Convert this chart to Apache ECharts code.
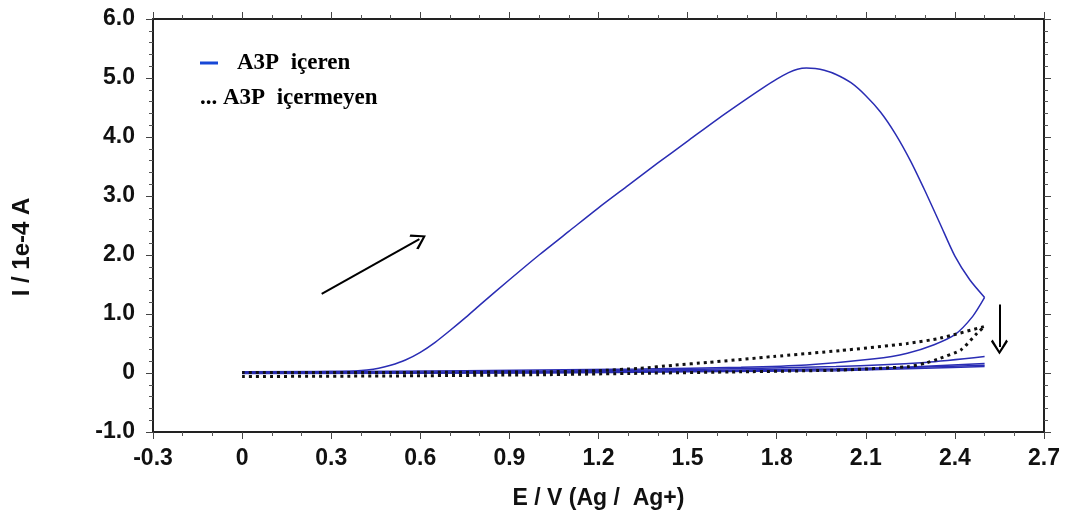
<!DOCTYPE html>
<html>
<head>
<meta charset="utf-8">
<script src="https://cdn.jsdelivr.net/npm/echarts@6/dist/echarts.min.js"></script>
<style>html,body{margin:0;padding:0;background:#fff}#c{width:1070px;height:520px}</style>
</head>
<body>
<div id="c"></div>
<script>
// ---- data (E / V, I / 1e-4 A) ----
const xTicks = { min: -0.3, max: 2.7, interval: 0.3 };
const yTicks = { min: -1, max: 6, interval: 1 };

// A3P içeren: first cycle forward scan
const bluePeakForward = [
  [0,0.02],[0.1,0.02],[0.2,0.02],[0.3,0.025],[0.38,0.035],[0.42,0.05],[0.46,0.08],[0.5,0.13],
  [0.55,0.22],[0.6,0.35],[0.65,0.52],[0.7,0.72],[0.75,0.93],[0.8,1.15],[0.9,1.58],[1.0,2.0],
  [1.1,2.4],[1.2,2.8],[1.3,3.18],[1.4,3.56],[1.5,3.93],[1.6,4.3],[1.7,4.65],[1.75,4.82],
  [1.8,4.98],[1.84,5.09],[1.87,5.15],[1.9,5.17],[1.93,5.16],[1.96,5.13],[2.0,5.06],
  [2.05,4.92],[2.1,4.7],[2.15,4.42],[2.2,4.05],[2.25,3.6],[2.3,3.08],[2.35,2.53],
  [2.4,1.98],[2.45,1.58],[2.5,1.28]
];
// A3P içeren: first cycle reverse scan
const bluePeakReverse = [
  [2.5,1.28],[2.46,0.96],[2.4,0.65],[2.33,0.48],[2.24,0.335],[2.13,0.24],[1.9,0.136],
  [1.68,0.097],[1.34,0.068],[1.0,0.05],[0.5,0.03],[0,0.02]
];
// A3P içeren: following cycles
const blueCycle2Fwd = [[0,0.0],[0.5,0.01],[1.0,0.03],[1.5,0.06],[2.0,0.11],[2.3,0.18],[2.5,0.28]];
const blueCycle2Rev = [[2.5,0.16],[2.2,0.09],[2.0,0.06],[1.5,0.03],[1.0,0.01],[0.5,0.0],[0,0.0]];
const blueCycle3Fwd = [[0,0.0],[1.0,0.02],[1.5,0.04],[2.0,0.07],[2.3,0.1],[2.5,0.13]];
const blueCycle3Rev = [[2.5,0.11],[2.3,0.08],[2.0,0.04],[1.5,0.02],[1.0,0.0],[0,-0.01]];
// A3P içermeyen
const blackDotted = [
  [0,-0.06],[0.5,-0.05],[1.0,-0.03],[1.34,-0.005],[1.68,0.02],[2.015,0.05],[2.24,0.107],
  [2.3,0.165],[2.35,0.25],[2.42,0.39],[2.475,0.675],[2.5,0.79],[2.35,0.59],[2.24,0.5],
  [2.015,0.38],[1.79,0.28],[1.57,0.18],[1.45,0.13],[1.34,0.08],[1.2,0.04],[1.0,0.02],
  [0.5,0.01],[0,0.01]
];
// annotation arrows [start, end]
const arrowScan = [[0.268,1.34],[0.597,2.27]];
const arrowDown = [[2.55,1.16],[2.55,0.44]];

const seriesNames = ['A3P  içeren', 'A3P  içermeyen'];
const axisTitles = { x: 'E / V (Ag /  Ag+)', y: 'I / 1e-4 A' };

// ---- chart ----
const BLUE = '#2a2db4';
const chart = echarts.init(document.getElementById('c'), null, { renderer: 'canvas' });
const SANS = '"Liberation Sans", Arial, sans-serif';
const labelFont = { fontFamily: SANS, fontWeight: 'bold', fontSize: 23, color: '#111' };
const fmt = v => (Math.abs(v) < 1e-9 ? '0' : v.toFixed(1));
const axisLine = { show: true, onZero: false, lineStyle: { color: '#222', width: 2 } };
const tick = { show: true, inside: false, length: 7, lineStyle: { color: '#444', width: 1 } };
const minor = { show: true, length: 4, lineStyle: { color: '#555', width: 1 } };
const arrowHead = 'path://M10,0 L20,14 L18,16 L10,4 L2,16 L0,14 Z';

function blueSeries(data, name) {
  return { type: 'line', name, data, showSymbol: false, smooth: 0.25, silent: true,
    lineStyle: { color: BLUE, width: 1.5 }, z: 3 };
}

chart.setOption({
  animation: false,
  grid: { left: 153, right: 26, top: 19, bottom: 88 },
  xAxis: [
    { type: 'value', min: xTicks.min, max: xTicks.max, interval: xTicks.interval, position: 'bottom',
      axisLine, axisTick: tick, minorTick: Object.assign({ splitNumber: 3 }, minor), splitLine: { show: false },
      axisLabel: Object.assign({ margin: 15, formatter: fmt }, labelFont),
      name: axisTitles.x, nameLocation: 'middle', nameGap: 55,
      nameTextStyle: { fontFamily: SANS, fontWeight: 'bold', fontSize: 23, color: '#111' } },
    { type: 'value', min: xTicks.min, max: xTicks.max, interval: xTicks.interval, position: 'top',
      axisLine, axisTick: tick, minorTick: Object.assign({ splitNumber: 3 }, minor), splitLine: { show: false },
      axisLabel: { show: false } }
  ],
  yAxis: [
    { type: 'value', min: yTicks.min, max: yTicks.max, interval: yTicks.interval, position: 'left',
      axisLine, axisTick: tick, minorTick: Object.assign({ splitNumber: 5 }, minor), splitLine: { show: false },
      axisLabel: Object.assign({ margin: 18, formatter: fmt }, labelFont) },
    { type: 'value', min: yTicks.min, max: yTicks.max, interval: yTicks.interval, position: 'right',
      axisLine, axisTick: tick, minorTick: Object.assign({ splitNumber: 5 }, minor), splitLine: { show: false },
      axisLabel: { show: false } }
  ],
  graphic: [
    { type: 'text', x: 22, y: 247, rotation: Math.PI / 2,
      style: { text: axisTitles.y, fill: '#111', font: 'bold 24px "Liberation Sans", Arial, sans-serif',
        align: 'center', verticalAlign: 'middle' } },
    { type: 'line', shape: { x1: 200, y1: 63, x2: 218, y2: 63 }, style: { stroke: '#1747d6', lineWidth: 3 } },
    { type: 'text', x: 237, y: 63, style: { text: seriesNames[0], fill: '#000',
        font: 'bold 23px "Liberation Serif", "Times New Roman", serif', verticalAlign: 'middle' } },
    { type: 'text', x: 200, y: 98, style: { text: '... ' + seriesNames[1], fill: '#000',
        font: 'bold 23px "Liberation Serif", "Times New Roman", serif', verticalAlign: 'middle' } }
  ],
  series: [
    blueSeries(bluePeakForward, seriesNames[0]),
    blueSeries(bluePeakReverse, seriesNames[0]),
    blueSeries(blueCycle2Fwd, seriesNames[0]),
    blueSeries(blueCycle2Rev, seriesNames[0]),
    blueSeries(blueCycle3Fwd, seriesNames[0]),
    blueSeries(blueCycle3Rev, seriesNames[0]),
    { type: 'line', name: seriesNames[1], data: blackDotted, showSymbol: false, smooth: 0.2, silent: true,
      lineStyle: { color: '#111', width: 3, type: [3, 4] }, z: 4 },
    { type: 'line', name: 'arrows', data: [], silent: true,
      markLine: { silent: true, animation: false, symbol: ['none', arrowHead], symbolSize: [17, 15],
        label: { show: false }, emphasis: { disabled: true },
        lineStyle: { color: '#000', width: 2, type: 'solid' },
        itemStyle: { color: '#000' },
        data: [
          [{ coord: arrowScan[0] }, { coord: arrowScan[1] }],
          [{ coord: arrowDown[0] }, { coord: arrowDown[1] }]
        ] } }
  ]
});
</script>
</body>
</html>
